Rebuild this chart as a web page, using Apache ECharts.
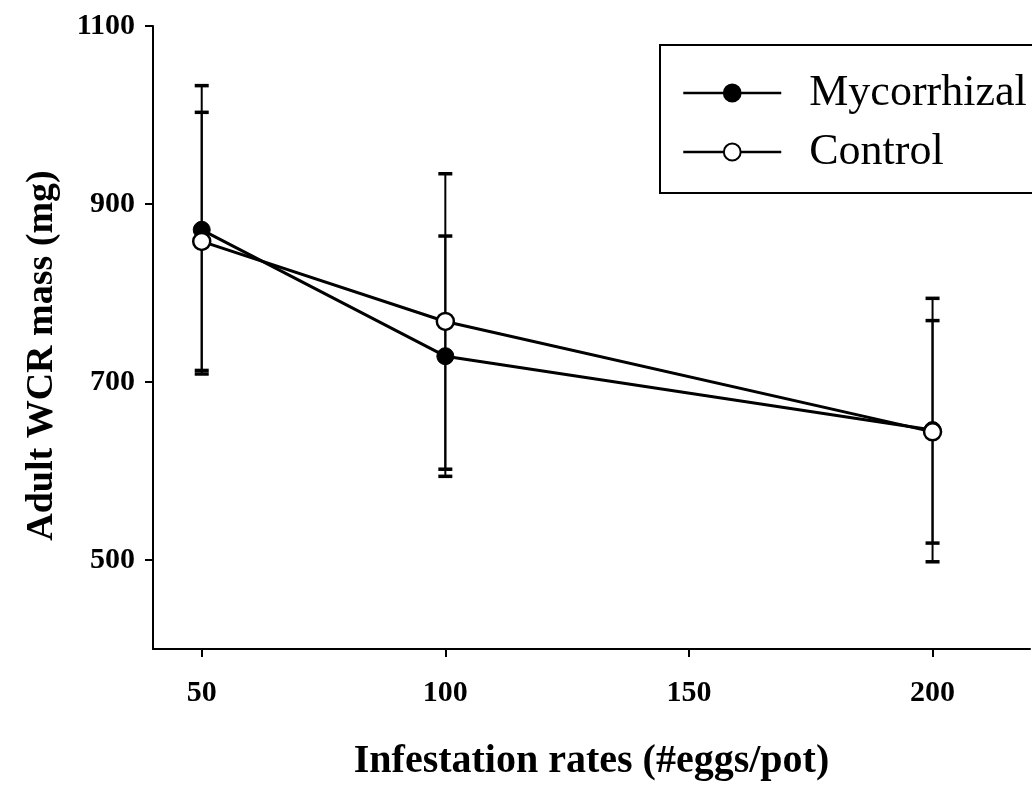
<!DOCTYPE html>
<html>
<head>
<meta charset="utf-8">
<script src="https://cdn.jsdelivr.net/npm/echarts@6/dist/echarts.min.js"></script>
<style>
  html, body { margin: 0; padding: 0; background: #fff; }
  #chart { width: 1032px; height: 787px; }
</style>
</head>
<body>
<div id="chart"></div>
<script>
// Infestation rate (eggs per pot) for each treatment group
const infestation = [50, 100, 200];
// Mean adult WCR mass (mg) and its error half-width
const mycMean = [871, 729, 646];
const mycErr = [162, 135, 148];
const ctrlMean = [858, 768, 644];
const ctrlErr = [145, 166, 125];
// Axis tick positions
const xTicks = [50, 100, 150, 200];
const yTicks = [500, 700, 900, 1100];

const FONT = "'Liberation Serif', 'Times New Roman', serif";

function points(means) {
  return infestation.map((x, i) => [x, means[i]]);
}
function bars(means, errs) {
  return infestation.map((x, i) => [x, means[i] - errs[i], means[i] + errs[i]]);
}

// Vertical error bar with caps at both ends
function renderErrorBar(params, api) {
  const x = api.value(0);
  const lo = api.coord([x, api.value(1)]);
  const hi = api.coord([x, api.value(2)]);
  const half = 7;
  const style = { stroke: '#000', lineWidth: 2 };
  const capStyle = { stroke: '#000', lineWidth: 3.5 };
  return {
    type: 'group',
    children: [
      { type: 'line', shape: { x1: lo[0], y1: lo[1], x2: hi[0], y2: hi[1] }, style: style },
      { type: 'line', shape: { x1: hi[0] - half, y1: hi[1], x2: hi[0] + half, y2: hi[1] }, style: capStyle },
      { type: 'line', shape: { x1: lo[0] - half, y1: lo[1], x2: lo[0] + half, y2: lo[1] }, style: capStyle }
    ]
  };
}

const chart = echarts.init(document.getElementById('chart'), null, { renderer: 'canvas' });

chart.setOption({
  animation: false,
  backgroundColor: '#fff',
  grid: { left: 153, right: 2, top: 26, bottom: 131, containLabel: false },
  legend: {
    left: 660,
    top: 45,
    orient: 'vertical',
    data: ['Mycorrhizal', 'Control'],
    itemWidth: 98,
    itemHeight: 21,
    itemGap: 15,
    padding: [26, 60, 19, 22],
    borderColor: '#000',
    borderWidth: 2,
    lineStyle: { color: '#000', width: 2.5 },
    textStyle: {
      fontFamily: FONT,
      fontSize: 44,
      lineHeight: 44,
      color: '#000',
      padding: [0, 0, 0, 23]
    }
  },
  xAxis: {
    type: 'value',
    min: 40,
    max: 220,
    name: 'Infestation rates (#eggs/pot)',
    nameLocation: 'middle',
    nameGap: 93,
    nameTextStyle: { fontFamily: FONT, fontSize: 40, fontWeight: 'bold', color: '#000' },
    axisLine: { show: true, lineStyle: { color: '#000', width: 2 } },
    axisTick: { show: true, length: 8, customValues: xTicks, lineStyle: { color: '#000', width: 2 } },
    axisLabel: {
      customValues: xTicks,
      margin: 29,
      formatter: v => String(v),
      fontFamily: FONT, fontSize: 30, fontWeight: 'bold', color: '#000'
    },
    splitLine: { show: false }
  },
  yAxis: {
    type: 'value',
    min: 400,
    max: 1100,
    name: 'Adult WCR mass (mg)',
    nameLocation: 'middle',
    nameRotate: 90,
    nameGap: 92,
    nameTextStyle: {
      fontFamily: FONT, fontSize: 38, fontWeight: 'bold', color: '#000',
      padding: [0, 36, 0, 0]
    },
    axisLine: { show: true, lineStyle: { color: '#000', width: 2 } },
    axisTick: { show: true, length: 8, customValues: yTicks, lineStyle: { color: '#000', width: 2 } },
    axisLabel: {
      customValues: yTicks,
      margin: 18,
      formatter: v => String(v),
      fontFamily: FONT, fontSize: 30, fontWeight: 'bold', color: '#000'
    },
    splitLine: { show: false }
  },
  series: [
    {
      type: 'custom',
      name: 'Mycorrhizal error',
      renderItem: renderErrorBar,
      encode: { x: 0, y: [1, 2] },
      data: bars(mycMean, mycErr),
      z: 1
    },
    {
      type: 'custom',
      name: 'Control error',
      renderItem: renderErrorBar,
      encode: { x: 0, y: [1, 2] },
      data: bars(ctrlMean, ctrlErr),
      z: 1
    },
    {
      type: 'line',
      name: 'Mycorrhizal',
      data: points(mycMean),
      symbol: 'circle',
      symbolSize: 17,
      lineStyle: { color: '#000', width: 3 },
      itemStyle: { color: '#000', borderColor: '#000', borderWidth: 1 },
      z: 3
    },
    {
      type: 'line',
      name: 'Control',
      data: points(ctrlMean),
      symbol: 'circle',
      symbolSize: 17,
      lineStyle: { color: '#000', width: 3 },
      itemStyle: { color: '#fff', borderColor: '#000', borderWidth: 2.5 },
      z: 4
    }
  ]
});
</script>
</body>
</html>
